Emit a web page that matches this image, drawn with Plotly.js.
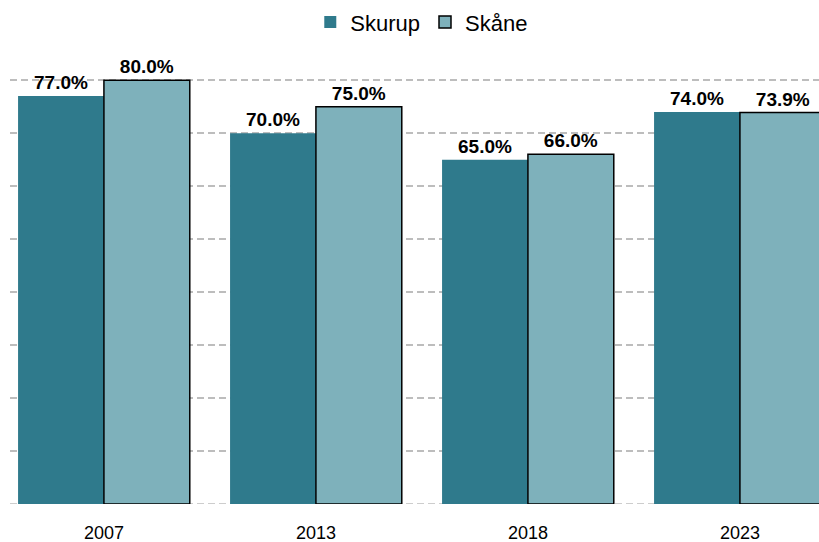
<!DOCTYPE html>
<html>
<head>
<meta charset="utf-8">
<script src="https://cdn.plot.ly/plotly-3.0.1.min.js"></script>
<style>html,body{margin:0;padding:0;background:#fff;}#chart{width:819px;height:542px;}</style>
</head>
<body>
<div id="chart"></div>
<script>
const years = ['2007', '2013', '2018', '2023'];
const skurup = [77.0, 70.0, 65.0, 74.0];
const skane = [80.0, 75.0, 66.0, 73.9];

const labelFont = {family: 'Liberation Sans Narrow, Arial Narrow, sans-serif', size: 19, color: '#000', weight: 'bold'};

const traces = [
  {
    type: 'bar', name: 'Skurup', x: years, y: skurup,
    marker: {color: '#2F7A8C', line: {width: 0}},
    texttemplate: '%{y:.1f}%', textposition: 'outside', textfont: labelFont,
    constraintext: 'none', cliponaxis: false, hoverinfo: 'none'
  },
  {
    type: 'bar', name: 'Skåne', x: years, y: skane,
    marker: {color: '#7EB1BB', line: {width: 1.5, color: '#000'}},
    texttemplate: '%{y:.1f}%', textposition: 'outside', textfont: labelFont,
    constraintext: 'none', cliponaxis: false, hoverinfo: 'none'
  }
];

const layout = {
  width: 819, height: 542,
  margin: {l: 10, r: 0, t: 59, b: 38},
  paper_bgcolor: '#fff', plot_bgcolor: '#fff',
  barmode: 'group', bargap: 0.19, bargroupgap: 0,
  font: {family: 'Liberation Sans, Arial, sans-serif', color: '#000'},
  showlegend: true,
  legend: {
    orientation: 'h', x: 0.515, xanchor: 'center', xref: 'container',
    y: 0.959, yanchor: 'middle', yref: 'container',
    font: {size: 22, color: '#000'}, traceorder: 'normal'
  },
  xaxis: {
    type: 'category', range: [-0.443, 3.373],
    showgrid: false, showline: false, zeroline: false, ticks: '',
    tickfont: {size: 18, color: '#000'}, ticklabelstandoff: 16, fixedrange: true
  },
  yaxis: {
    range: [0, 84], dtick: 10, tick0: 0, showticklabels: false,
    showgrid: true, gridcolor: '#BDBDBD', gridwidth: 1.5, griddash: '7px,4px',
    zeroline: false, showline: false, ticks: '', fixedrange: true
  },
  shapes: [{
    type: 'line', xref: 'paper', x0: 0, x1: 1, yref: 'y', y0: 0, y1: 0,
    layer: 'below', line: {color: '#BDBDBD', width: 1.5, dash: '7px,4px'}
  }]
};

Plotly.newPlot('chart', traces, layout, {displayModeBar: false, staticPlot: true});
</script>
</body>
</html>
